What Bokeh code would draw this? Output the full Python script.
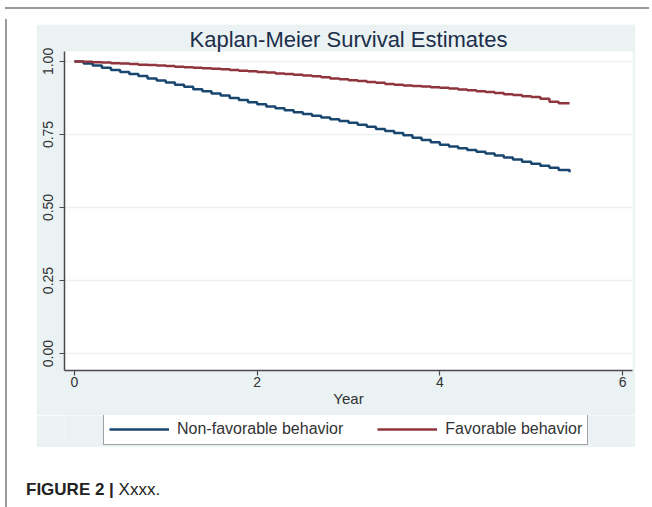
from bokeh.plotting import figure
from bokeh.models import (Range1d, FixedTicker, NumeralTickFormatter, Legend, LegendItem,
                          Div, Spacer, ColumnDataSource)
from bokeh.layouts import column, row
from bokeh.embed import file_html
from bokeh.resources import INLINE

# ---- data ----
years = [0.0, 0.1, 0.2, 0.3, 0.4, 0.5, 0.6, 0.7, 0.8, 0.9, 1.0,
         1.1, 1.2, 1.3, 1.4, 1.5, 1.6, 1.7, 1.8, 1.9, 2.0,
         2.1, 2.2, 2.3, 2.4, 2.5, 2.6, 2.7, 2.8, 2.9, 3.0,
         3.1, 3.2, 3.3, 3.4, 3.5, 3.6, 3.7, 3.8, 3.9, 4.0,
         4.1, 4.2, 4.3, 4.4, 4.5, 4.6, 4.7, 4.8, 4.9, 5.0,
         5.1, 5.2, 5.3, 5.42]

non_favorable = [1.000, 0.993, 0.986, 0.978, 0.971, 0.964, 0.957, 0.950, 0.942, 0.935, 0.928,
                 0.920, 0.913, 0.905, 0.898, 0.890, 0.883, 0.875, 0.868, 0.860, 0.853,
                 0.846, 0.840, 0.833, 0.826, 0.820, 0.814, 0.808, 0.802, 0.796, 0.790,
                 0.783, 0.776, 0.769, 0.762, 0.755, 0.747, 0.739, 0.731, 0.723, 0.715,
                 0.709, 0.703, 0.697, 0.691, 0.685, 0.678, 0.671, 0.664, 0.657, 0.650,
                 0.643, 0.636, 0.628, 0.621]

favorable = [1.000, 0.999, 0.997, 0.996, 0.994, 0.993, 0.991, 0.989, 0.988, 0.986, 0.984,
             0.982, 0.980, 0.978, 0.977, 0.975, 0.973, 0.971, 0.968, 0.966, 0.964,
             0.962, 0.959, 0.957, 0.954, 0.952, 0.949, 0.946, 0.942, 0.939, 0.936,
             0.933, 0.930, 0.927, 0.923, 0.920, 0.918, 0.916, 0.914, 0.912, 0.910,
             0.907, 0.904, 0.901, 0.898, 0.895, 0.892, 0.888, 0.885, 0.881, 0.878,
             0.872, 0.862, 0.857, 0.857]

x_ticks = [0, 2, 4, 6]
y_ticks = [0.0, 0.25, 0.5, 0.75, 1.0]
series_names = ["Non-favorable behavior", "Favorable behavior"]

GREY_BG = "#EAF2F3"
NAVY = "#1A476F"
MAROON = "#90353B"
FONT = "Liberation Sans"
LEFT_BORDER = 28
RIGHT_BORDER = 3
FRAME_W = 568

src = ColumnDataSource(dict(t=years, nf=non_favorable, f=favorable))

# ---------------- main plot ----------------
p = figure(frame_width=FRAME_W, frame_height=319, output_backend="svg", toolbar_location=None,
           x_range=Range1d(-0.109, 6.109), y_range=Range1d(-0.058, 1.034),
           title="Kaplan-Meier Survival Estimates")
p.min_border = 0
p.min_border_left = LEFT_BORDER
p.min_border_right = RIGHT_BORDER
p.min_border_top = 24
p.min_border_bottom = 45
p.border_fill_color = GREY_BG
p.background_fill_color = "white"
p.outline_line_color = None

p.title.align = "center"
p.title.text_font = FONT
p.title.text_font_size = "22px"
p.title.text_font_style = "normal"
p.title.text_color = "#1c2e4a"
p.title.standoff = 0
p.title.offset = 0

p.step("t", "nf", source=src, mode="after", line_color=NAVY, line_width=2.5)
p.step("t", "f", source=src, mode="after", line_color=MAROON, line_width=2.5)

p.xaxis.ticker = FixedTicker(ticks=x_ticks)
p.yaxis.ticker = FixedTicker(ticks=y_ticks)
p.yaxis.formatter = NumeralTickFormatter(format="0.00")
p.yaxis.major_label_orientation = "vertical"
for ax in (p.xaxis, p.yaxis):
    ax.axis_line_color = "#4a4a4a"
    ax.axis_line_width = 1.5
    ax.major_tick_line_color = "#4a4a4a"
    ax.major_tick_line_width = 1.2
    ax.major_tick_out = 5
    ax.major_tick_in = 0
    ax.minor_tick_line_color = None
    ax.major_label_text_font = FONT
    ax.major_label_text_font_size = "14px"
    ax.major_label_text_color = "#333333"
p.xaxis.major_label_standoff = 1
p.yaxis.major_label_standoff = 6
p.xaxis.axis_label = "Year"
p.xaxis.axis_label_text_font = FONT
p.xaxis.axis_label_text_font_size = "15px"
p.xaxis.axis_label_text_font_style = "normal"
p.xaxis.axis_label_text_color = "#333333"
p.xaxis.axis_label_standoff = 0

p.xgrid.grid_line_color = None
p.ygrid.grid_line_color = GREY_BG
p.ygrid.grid_line_width = 1.5

# ---------------- legend strip (same grey graph region) ----------------
lg = figure(width=LEFT_BORDER + FRAME_W + RIGHT_BORDER, height=32, output_backend="svg",
            toolbar_location=None, x_axis_type=None, y_axis_type=None,
            x_range=Range1d(100, 101), y_range=Range1d(0, 1))
lg.min_border = 0
lg.border_fill_color = GREY_BG
lg.background_fill_color = GREY_BG
lg.outline_line_color = None
lg.xgrid.grid_line_color = None
lg.ygrid.grid_line_color = None
l1 = lg.step("t", "nf", source=src, mode="after", line_color=NAVY, line_width=2.5)
l2 = lg.step("t", "f", source=src, mode="after", line_color=MAROON, line_width=2.5)

legend = Legend(items=[LegendItem(label=series_names[0], renderers=[l1]),
                       LegendItem(label=series_names[1], renderers=[l2])],
                orientation="horizontal", location=(39, 2))
legend.margin = 0
legend.padding = 5
legend.spacing = 34
legend.glyph_width = 60
legend.glyph_height = 20
legend.label_standoff = 8
legend.label_text_font = FONT
legend.label_text_font_size = "16px"
legend.label_text_color = "#333333"
legend.border_line_color = "#444444"
legend.border_line_width = 1
legend.background_fill_color = "white"
legend.background_fill_alpha = 1.0
lg.add_layout(legend, "center")

# ---------------- page frame and caption ----------------
LINE = "#9a9a9a"
top_line = Div(text="", width=644, height=2, styles={"background-color": LINE})
left_line = Div(text="", width=2, height=495, styles={"background-color": LINE})
caption = Div(text="<b>FIGURE 2 |</b> Xxxx.", width=300, height=20,
              styles={"font-family": "Liberation Sans, Arial, sans-serif",
                      "font-size": "17px", "color": "#222222", "margin": "0", "padding": "0"})

inner = column(
    row(Spacer(width=24), column(Spacer(height=10), p, lg)),
    Spacer(height=31),
    row(Spacer(width=14), caption),
)
layout = column(Spacer(width=644, height=2), top_line, row(left_line, inner))

open("out.html", "w").write(file_html(layout, INLINE))
